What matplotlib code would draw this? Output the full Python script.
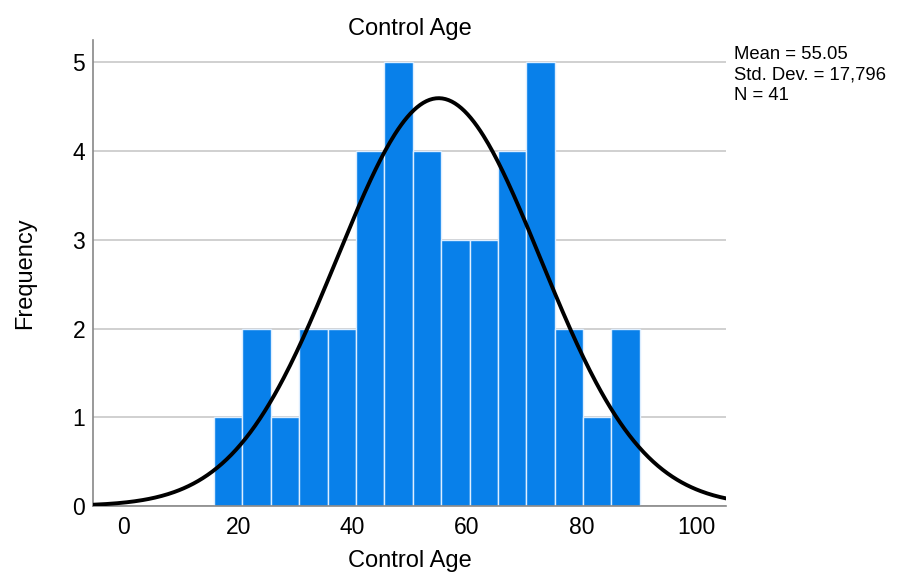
import numpy as np
import matplotlib
matplotlib.use("Agg")
import matplotlib.pyplot as plt

plt.rcParams['font.family'] = ['Liberation Sans', 'DejaVu Sans']

counts = [1, 2, 1, 2, 2, 4, 5, 4, 3, 3, 4, 5, 2, 1, 2]
bin_start = 15.8
bin_end = 90.2
mean = 55.05
std = 17.796
n = 41
xticks = [0, 20, 40, 60, 80, 100]
yticks = [0, 1, 2, 3, 4, 5]

edges = np.linspace(bin_start, bin_end, len(counts) + 1)
width = edges[1] - edges[0]

fig = plt.figure(figsize=(9.01, 5.73), dpi=100)
ax = fig.add_axes([0.1036, 0.1169, 0.7024, 0.8131])

ax.bar(edges[:-1], counts, width=width, align='edge', color='#0880EA',
       edgecolor='#DDEEFF', linewidth=1.0, zorder=2)

xs = np.linspace(-5.3, 105.3, 400)
pdf = n * 5 / (std * np.sqrt(2 * np.pi)) * np.exp(-0.5 * ((xs - mean) / std) ** 2)
ax.plot(xs, pdf, color='black', lw=2.8, zorder=3, solid_capstyle='round')

ax.set_xlim(-5.3, 105.3)
ax.set_ylim(0, 5.25)
ax.set_xticks(xticks)
ax.set_yticks(yticks)
ax.yaxis.grid(True, color='#C8C8C8', lw=1.2, zorder=0)
ax.set_axisbelow(True)
ax.tick_params(axis='both', length=0, labelsize=16.5)
ax.tick_params(axis='x', pad=7)
ax.tick_params(axis='y', pad=6)
for s in ['top', 'right']:
    ax.spines[s].set_visible(False)
for s in ['left', 'bottom']:
    ax.spines[s].set_color('#888888')
    ax.spines[s].set_linewidth(1.2)

ax.set_xlabel('Control Age', fontsize=17, labelpad=8)
ax.set_ylabel('Frequency', fontsize=17, labelpad=26)
ax.set_title('Control Age', fontsize=17, pad=4)

fig.text(0.8146, 0.92, f'Mean = {mean:.2f}\nStd. Dev. = 17,796\nN = {n}',
         fontsize=13.3, va='top', ha='left', linespacing=1.27)

fig.savefig('out.png', dpi=100)
